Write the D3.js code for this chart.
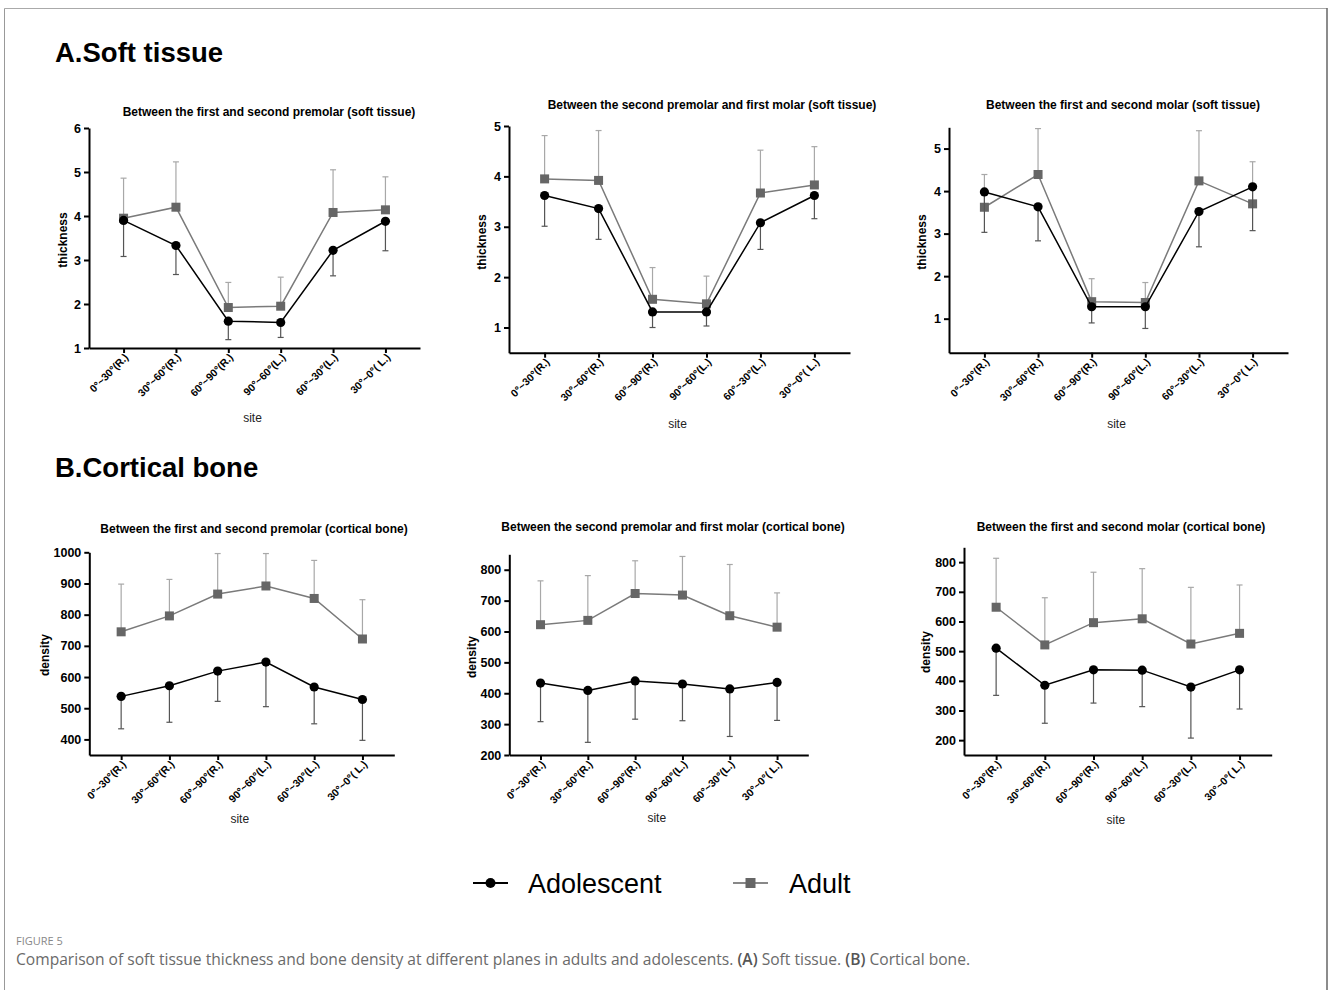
<!DOCTYPE html>
<html>
<head>
<meta charset="utf-8">
<script src="https://cdn.jsdelivr.net/npm/d3@7"></script>
<style>
  body { margin: 0; background: #fff; }
  svg { display: block; }
  .axis path, .axis line { stroke: #000; stroke-width: 2; }
  .axis text { font-family: "Liberation Sans", Arial, sans-serif; font-weight: bold; fill: #000; }
</style>
</head>
<body>
<div id="chart"></div>
<script>
// sites on the x axis
const sites = ['0°~30°(R.)', '30°~60°(R.)', '60°~90°(R.)', '90°~60°(L.)', '60°~30°(L.)', '30°~0°( L.)'];

// soft tissue thickness, mean and SD
const softPremolarAdol = [3.90, 3.33, 1.61, 1.58, 3.22, 3.88];
const softPremolarAdolSD = [0.82, 0.66, 0.42, 0.34, 0.58, 0.67];
const softPremolarAdult = [3.95, 4.20, 1.92, 1.95, 4.08, 4.14];
const softPremolarAdultSD = [0.91, 1.03, 0.57, 0.66, 0.97, 0.75];

const softPreMolarAdol = [3.62, 3.36, 1.31, 1.31, 3.08, 3.62];
const softPreMolarAdolSD = [0.61, 0.61, 0.31, 0.28, 0.53, 0.46];
const softPreMolarAdult = [3.95, 3.92, 1.56, 1.47, 3.67, 3.83];
const softPreMolarAdultSD = [0.86, 0.99, 0.63, 0.55, 0.85, 0.76];

const softMolarAdol = [3.98, 3.63, 1.28, 1.28, 3.52, 4.10];
const softMolarAdolSD = [0.95, 0.80, 0.38, 0.51, 0.83, 1.03];
const softMolarAdult = [3.62, 4.39, 1.40, 1.38, 4.24, 3.70];
const softMolarAdultSD = [0.77, 1.08, 0.54, 0.47, 1.18, 0.99];

// cortical bone density, mean and SD
const bonePremolarAdol = [538, 572, 619, 648, 568, 528];
const bonePremolarAdolSD = [104, 117, 97, 143, 118, 131];
const bonePremolarAdult = [745, 796, 866, 892, 852, 722];
const bonePremolarAdultSD = [153, 117, 130, 104, 122, 126];

const bonePreMolarAdol = [433, 409, 440, 430, 414, 435];
const bonePreMolarAdolSD = [125, 168, 124, 119, 154, 123];
const bonePreMolarAdult = [622, 636, 723, 718, 651, 614];
const bonePreMolarAdultSD = [142, 145, 106, 125, 166, 111];

const boneMolarAdol = [510, 385, 437, 436, 379, 437];
const boneMolarAdolSD = [159, 128, 112, 123, 172, 132];
const boneMolarAdult = [648, 521, 596, 609, 524, 560];
const boneMolarAdultSD = [165, 159, 170, 169, 191, 163];

// y axis ticks
const softTicksA = [1, 2, 3, 4, 5, 6];
const softTicksB = [1, 2, 3, 4, 5];
const boneTicksA = [400, 500, 600, 700, 800, 900, 1000];
const boneTicksB = [200, 300, 400, 500, 600, 700, 800];

const W = 1328, H = 990;
const FONT = '"Liberation Sans", Arial, sans-serif';

const svg = d3.select('#chart').append('svg').attr('width', W).attr('height', H);

// figure frame
svg.append('line').attr('x1', 4.5).attr('x2', 1327).attr('y1', 8.5).attr('y2', 8.5).attr('stroke', '#aaa');
svg.append('line').attr('x1', 4.5).attr('x2', 4.5).attr('y1', 8.5).attr('y2', H).attr('stroke', '#999');
svg.append('line').attr('x1', 1327).attr('x2', 1327).attr('y1', 8).attr('y2', H).attr('stroke', '#666').attr('stroke-width', 1.5);

// section headings
svg.append('text').attr('x', 55).attr('y', 62).text('A.Soft tissue')
  .attr('font-family', FONT).attr('font-weight', 'bold').attr('font-size', 27.5);
svg.append('text').attr('x', 55).attr('y', 477).text('B.Cortical bone')
  .attr('font-family', FONT).attr('font-weight', 'bold').attr('font-size', 27.5);

const panels = [
  { title: 'Between the first and second premolar (soft tissue)', ylab: 'thickness', domain: [1, 6], ticks: softTicksA,
    x0: 89, x1: 420, y0: 348, y1: 128, tx: 269, ty: 116, lx: 67, ly: 240, sy: 422,
    adol: softPremolarAdol, adolSD: softPremolarAdolSD, adult: softPremolarAdult, adultSD: softPremolarAdultSD },
  { title: 'Between the second premolar and first molar (soft tissue)', ylab: 'thickness', domain: [0.5, 5], ticks: softTicksB,
    x0: 509, x1: 850, y0: 352.7, y1: 126, tx: 712, ty: 109, lx: 486, ly: 242, sy: 428,
    adol: softPreMolarAdol, adolSD: softPreMolarAdolSD, adult: softPreMolarAdult, adultSD: softPreMolarAdultSD },
  { title: 'Between the first and second molar (soft tissue)', ylab: 'thickness', domain: [0.2, 5.5], ticks: softTicksB,
    x0: 949, x1: 1288, y0: 352.7, y1: 127.3, tx: 1123, ty: 109, lx: 926, ly: 242, sy: 428,
    adol: softMolarAdol, adolSD: softMolarAdolSD, adult: softMolarAdult, adultSD: softMolarAdultSD },
  { title: 'Between the first and second premolar (cortical  bone)', ylab: 'density', domain: [350, 1000], ticks: boneTicksA,
    x0: 89.3, x1: 394.3, y0: 755, y1: 552.3, tx: 254, ty: 533, lx: 49, ly: 655, sy: 823,
    adol: bonePremolarAdol, adolSD: bonePremolarAdolSD, adult: bonePremolarAdult, adultSD: bonePremolarAdultSD },
  { title: 'Between the second premolar and first molar (cortical bone)', ylab: 'density', domain: [200, 850], ticks: boneTicksB,
    x0: 509.3, x1: 808.3, y0: 755, y1: 554.3, tx: 673, ty: 531, lx: 476, ly: 657, sy: 822,
    adol: bonePreMolarAdol, adolSD: bonePreMolarAdolSD, adult: bonePreMolarAdult, adultSD: bonePreMolarAdultSD },
  { title: 'Between the first and second molar (cortical bone)', ylab: 'density', domain: [150, 850], ticks: boneTicksB,
    x0: 964, x1: 1271.7, y0: 755, y1: 547.3, tx: 1121, ty: 531, lx: 930, ly: 652, sy: 824,
    adol: boneMolarAdol, adolSD: boneMolarAdolSD, adult: boneMolarAdult, adultSD: boneMolarAdultSD },
];

function drawSeries(g, x, y, means, sds, dir, o) {
  // error bars (one-sided)
  const eb = g.append('g');
  means.forEach((m, i) => {
    const cx = x(sites[i]);
    const end = y(m + dir * sds[i]);
    eb.append('line').attr('x1', cx).attr('x2', cx).attr('y1', y(m)).attr('y2', end)
      .attr('stroke', o.bar).attr('stroke-width', 1.2);
    eb.append('line').attr('x1', cx - 3).attr('x2', cx + 3).attr('y1', end).attr('y2', end)
      .attr('stroke', o.bar).attr('stroke-width', 1.2);
  });
  const line = d3.line().x((d, i) => x(sites[i])).y((d) => y(d));
  g.append('path').datum(means).attr('d', line).attr('fill', 'none')
    .attr('stroke', o.line).attr('stroke-width', 1.5);
  if (o.shape === 'circle') {
    g.selectAll(null).data(means).enter().append('circle')
      .attr('cx', (d, i) => x(sites[i])).attr('cy', (d) => y(d)).attr('r', 4.6).attr('fill', o.fill);
  } else {
    g.selectAll(null).data(means).enter().append('rect')
      .attr('x', (d, i) => x(sites[i]) - 4.5).attr('y', (d) => y(d) - 4.5)
      .attr('width', 9).attr('height', 9).attr('fill', o.fill);
  }
}

panels.forEach((p) => {
  const x = d3.scalePoint().domain(sites).range([p.x0, p.x1]).padding(0.66);
  const y = d3.scaleLinear().domain(p.domain).range([p.y0, p.y1]);
  const g = svg.append('g');

  g.append('text').attr('x', p.tx).attr('y', p.ty).attr('text-anchor', 'middle').text(p.title)
    .attr('font-family', FONT).attr('font-weight', 'bold').attr('font-size', 12);

  const ya = g.append('g').attr('class', 'axis').attr('transform', `translate(${p.x0},0)`)
    .call(d3.axisLeft(y).tickValues(p.ticks).tickFormat(d3.format('d')).tickSize(5).tickSizeOuter(0).tickPadding(3));
  ya.selectAll('text').attr('font-size', 12.5);

  const xa = g.append('g').attr('class', 'axis').attr('transform', `translate(0,${p.y0})`)
    .call(d3.axisBottom(x).tickSize(5).tickSizeOuter(0));
  xa.selectAll('text').attr('font-size', 10.5).attr('text-anchor', 'end')
    .attr('dy', null).attr('y', 0)
    .attr('transform', 'translate(5,10) rotate(-45)');

  g.append('text').attr('transform', `translate(${p.lx},${p.ly}) rotate(-90)`).attr('text-anchor', 'middle')
    .text(p.ylab).attr('font-family', FONT).attr('font-weight', 'bold').attr('font-size', 12);
  g.append('text').attr('x', (p.x0 + p.x1) / 2 - 2).attr('y', p.sy).attr('text-anchor', 'middle')
    .text('site').attr('font-family', FONT).attr('font-size', 12).attr('fill', '#222');

  drawSeries(g, x, y, p.adult, p.adultSD, 1, { bar: '#a8a8a8', line: '#7a7a7a', fill: '#666', shape: 'rect' });
  drawSeries(g, x, y, p.adol, p.adolSD, -1, { bar: '#555', line: '#000', fill: '#000', shape: 'circle' });
});

// legend
const leg = svg.append('g').attr('transform', 'translate(0,883)');
leg.append('line').attr('x1', 473).attr('x2', 508).attr('stroke', '#000').attr('stroke-width', 2);
leg.append('circle').attr('cx', 490.5).attr('r', 5).attr('fill', '#000');
leg.append('text').attr('x', 528).attr('y', 9.5).text('Adolescent')
  .attr('font-family', FONT).attr('font-size', 27);
leg.append('line').attr('x1', 733).attr('x2', 768).attr('stroke', '#888').attr('stroke-width', 2);
leg.append('rect').attr('x', 745.5).attr('y', -5).attr('width', 10).attr('height', 10).attr('fill', '#666');
leg.append('text').attr('x', 789).attr('y', 9.5).text('Adult')
  .attr('font-family', FONT).attr('font-size', 27);

// caption
svg.append('text').attr('x', 16).attr('y', 945).text('FIGURE 5')
  .attr('font-family', '"Open Sans", sans-serif').attr('font-size', 11).attr('fill', '#888');
const cap = svg.append('text').attr('x', 16).attr('y', 965)
  .attr('font-family', '"Open Sans", sans-serif').attr('font-size', 15.6).attr('fill', '#6a6a6a');
cap.append('tspan').text('Comparison of soft tissue thickness and bone density at different planes in adults and adolescents. ');
cap.append('tspan').attr('font-weight', 600).attr('fill', '#555').text('(A)');
cap.append('tspan').text(' Soft tissue. ');
cap.append('tspan').attr('font-weight', 600).attr('fill', '#555').text('(B)');
cap.append('tspan').text(' Cortical bone.');
</script>
</body>
</html>
